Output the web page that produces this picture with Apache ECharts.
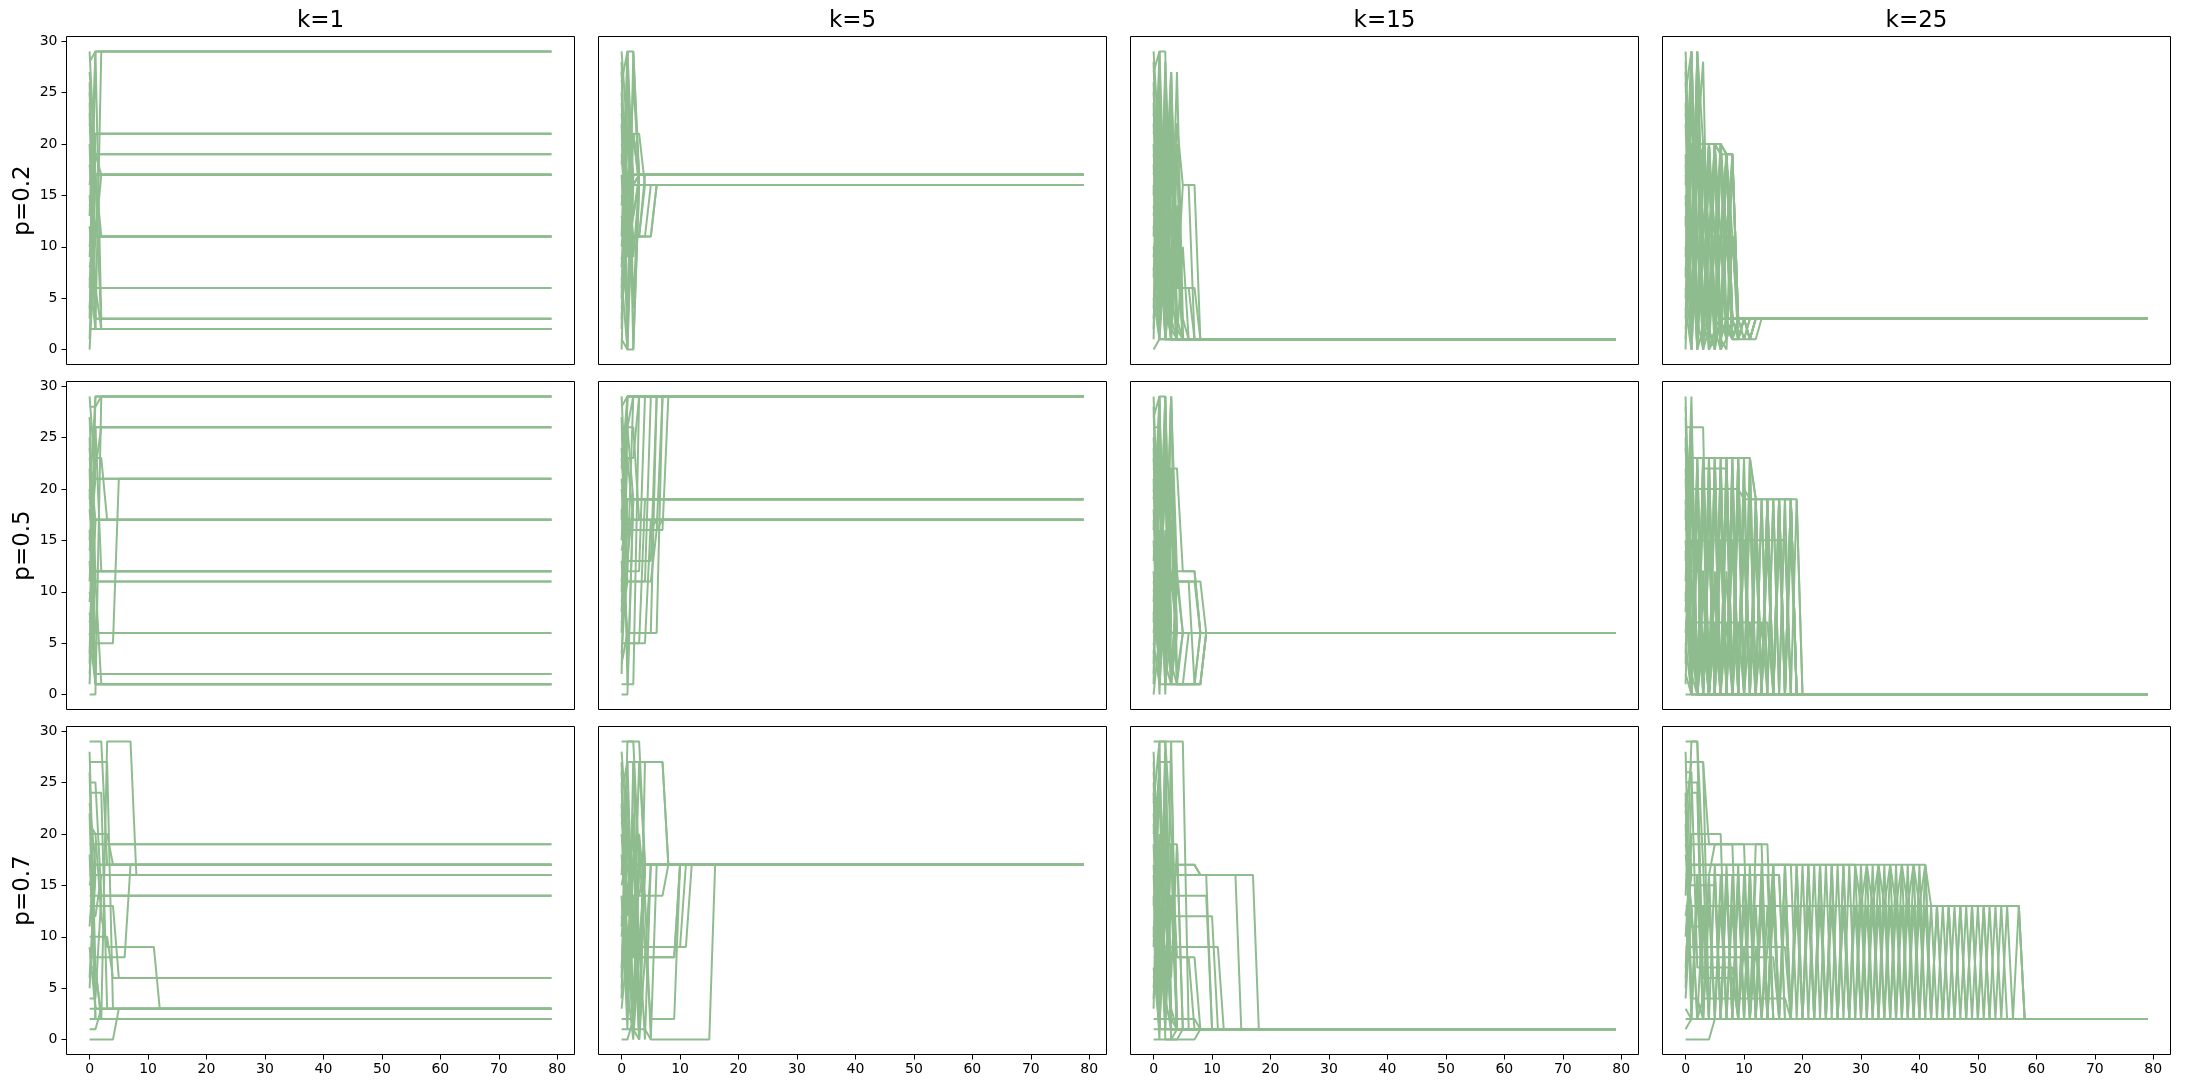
<!DOCTYPE html>
<html>
<head>
<meta charset="utf-8">
<script src="https://cdn.jsdelivr.net/npm/echarts@6/dist/echarts.min.js"></script>
<style>
html, body { margin: 0; padding: 0; background: #ffffff; }
#chart { width: 2190px; height: 1089px; }
</style>
</head>
<body>
<div id="chart"></div>
<script>
// column / row headers and axis ticks
const colTitles = ['k=1', 'k=5', 'k=15', 'k=25'];
const rowTitles = ['p=0.2', 'p=0.5', 'p=0.7'];
const xTicks = [0, 10, 20, 30, 40, 50, 60, 70, 80];
const yTicks = [0, 5, 10, 15, 20, 25, 30];
const lastStep = 79;

// one array per agent: opinion at step 0,1,2,... ; the last value stays until lastStep
const p02k1 = [
  [0,11,11],[1,17],[2,2],[3,29,3],[4,17],[5,6],[6,21],[7,2],[8,11],[9,19],
  [10,17,11],[11,11],[12,3],[13,29],[14,17],[15,6,2],[16,21],[17,17],[18,11],[19,19],
  [20,2,29],[21,21],[22,17],[23,3],[24,6],[25,11,17],[26,2],[27,19,17],[28,29],[29,17,2]
];
const p02k5 = [
  [0,21,17],[1,0,0,16],[2,29,29,17],[3,16,21,21,16],[4,11,17],[5,26,16],[6,17,11,11,11,11,16],
  [7,0,16,17],[8,21,13,17],[9,4,21,16],[10,17,16],[11,29,4,17],[12,13,11,11,16],[13,9,17],
  [14,21,21,16],[15,11,26,17],[16,16],[17,4,17],[18,26,0,16],[19,11,11,11,11,11,16],
  [20,17,9,16],[21,21,16,17],[22,0,29,16],[23,13,11,11,17],[24,16,21,17],[25,9,13,16],
  [26,29,16],[27,11,17],[28,4,11,11,11,16],[29,21,17]
];
const p02k15 = [
  [0,1],[1,29,29,1],[2,27,6,1],[3,14,1],[4,22,9,27,1],[5,1],[6,6,6,6,6,6,6,1],
  [7,25,3,20,12,1],[8,1,27,3,1],[9,18,1,23,6,16,16,1],[10,3,24,1],[11,29,12,8,27,3,1],
  [12,6,19,1,14,1],[13,20,2,25,1],[14,8,26,11,6,6,6,6,1],[15,27,1],[16,2,15,27,9,1],
  [17,22,6,1,20,1],[18,4,28,13,1],[19,12,1,6,22,16,16,16,1],[20,1,9,24,3,1],[21,26,5,1],
  [22,9,20,2,1,10,1],[23,16,1,18,1],[24,2,23,6,1],[25,13,7,27,2,1],[26,5,21,1],
  [27,29,1],[28,7,16,4,19,1],[29,19,10,1]
];
const p02k25 = [
  [0,29,3,0,2,0,3],[1,20,20,20,20,20,19,19,3],[2,11,0,19,1,11,3],[3,28,2,20,20,20,20,19,3],
  [4,0,29,11,20,1,11,11,11,3],[5,20,20,20,20,20,20,19,19,3],[6,1,27,2,19,11,3],
  [7,29,11,0,20,2,19,11,1,3,1,3],[8,3,20,28,2,0,11,19,3,1,3],[9,24,1,11,0,20,2,11,19,3],
  [10,2,29,20,3,11,0,1,3,1,3,1,3],[11,11,20,1,19,3,11,11,1,3],[12,27,0,19,11,20,1,3],
  [13,0,11,20,1,20,2,19,19,1,3,1,1,3],[14,20,2,11,20,0,20,11,3],[15,1,19,0,11,11,3,1,11,3],
  [16,29,3,11,0,2,20,19,1,1,3,1,3],[17,11,28,1,20,11,0,11,3],[18,0,20,20,20,1,11,19,11,1,3],
  [19,2,11,2,3,19,1,0,19,3],[20,20,1,11,2,11,20,3,1,3,3,1,3],[21,19,0,11,0,1,3,11,11,3],
  [22,3,29,0,11,20,11,2,1,1,1,1,3],[23,11,2,20,20,2,0,19,3],[24,1,27,1,3,20,19,1,3],
  [25,29,11,11,0,11,11,1,11,3],[26,11,0,2,20,20,1,3],[27,2,20,19,11,0,11,19,1,3,1,3],
  [28,0,11,1,2,20,20,11,3],[29,11,1,20,20,3,2,19,19,3]
];
const p05k1 = [
  [0,0,29],[1,17],[2,12],[3,29],[4,26],[5,5,5,5,5,21],[6,1],[7,11],[8,2],[9,17],
  [10,6],[11,26,12],[12,12],[13,1],[14,21],[15,23,23,17],[16,2],[17,17],[18,11],[19,29],
  [20,6],[21,22,26],[22,1],[23,17],[24,12],[25,2],[26,26],[27,11,1],[28,28,29],[29,21]
];
const p05k5 = [
  [0,0,19],[1,1,1,29],[2,29],[3,6,6,6,6,6,6,29],[4,13,19],[5,5,5,5,5,17],[6,26,26,17],
  [7,11,11,11,11,29],[8,23,23,29],[9,16,16,16,16,16,16,16,29],[10,29],[11,19],[12,12,29],
  [13,6,6,6,6,6,29],[14,17],[15,26,19],[16,16,16,16,16,16,17],[17,29],[18,5,5,5,19],
  [19,19],[20,12,12,12,29],[21,13,13,13,13,13,29],[22,29],[23,17],[24,11,11,11,11,11,16,29],
  [25,23,17],[26,26,29],[27,1,19],[28,29],[29,16,16,16,16,16,16,17]
];
const p05k15 = [
  [0,6],[1,29,1,1,1,1,1,1,6],[2,22,22,22,22,12,12,12,6],[3,27,6],[4,11,29,1,11,6],
  [5,1,1,1,1,1,1,1,1,6],[6,13,29,6],[7,29,4,17,1,6],[8,3,25,11,11,11,11,1,6],
  [9,22,2,29,12,12,12,12,6],[10,16,11,6],[11,6,27,3,1,1,1,1,1,6],[12,2,12,12,6],
  [13,25,0,22,11,11,11,11,11,6],[14,11,20,1,6],[15,1,9,29,2,6],[16,29,1,12,6],[17,8,24,6],
  [18,4,11,1,1,1,1,1,1,6],[19,27,6,11,6],[20,12,1,21,1,1,6],[21,0,14,6],[22,19,3,1,12,6],
  [23,6,22,1,11,11,11,11,6],[24,2,12,29,6],[25,11,6],[26,26,1,6],[27,29,29,6],[28,1,16,6],
  [29,12,2,21,6]
];
const p05k25 = [
  [0,0],
  [1,23,0,23,0,23,0,23,0,23,0,23,0],
  [2,0,23,0,23,0,23,0,23,0,23,23,19,0,19,0,19,0,19,0],
  [3,26,26,26,0],
  [4,20,0,20,0,20,0,20,0,20,0],
  [5,0,20,0,20,0,20,0,20,0,20,19,19,19,19,19,19,19,19,0],
  [6,15,15,15,15,15,15,15,15,15,15,15,15,15,15,15,15,15,0],
  [7,7,7,7,7,7,7,7,7,7,7,7,7,7,7,0],
  [8,22,0,22,22,22,22,22,0],
  [9,23,23,23,23,23,23,23,23,23,23,23,0],
  [10,0,15,0,15,0,15,0,15,0,15,0,15,0,15,0,15,0,15,0],
  [11,29,0],
  [12,12,0,12,0,12,0,12,0],
  [13,23,0,23,0,23,0,23,0,23,0,19,0,19,0,19,0,19,0,19,0],
  [14,0],
  [15,5,0,5,0,7,0,7,0,7,0,7,0,7,0],
  [16,19,0,19,0,19,0,19,0,19,0,19,0,19,0,19,0,19,19,0],
  [17,27,0],
  [18,0,23,0,23,0,23,0,23,0,23,0,19,0,19,0,19,0,19,0],
  [19,2,0],
  [20,20,20,20,20,20,20,20,20,20,19,19,19,19,19,19,19,19,19,0],
  [21,0,22,0,22,0,22,0,22,0],
  [22,6,0,6,0,6,0],
  [23,23,0,23,0,23,0,23,0,23,0,23,19,0,19,0,19,0,19,0],
  [24,10,0,10,0,10,0],
  [25,0,15,0,15,0,15,0,15,0,15,0,15,0,15,0,15,15,0],
  [26,26,0],
  [27,0,20,0,20,0,20,0,20,0,20,0,19,0,19,0,19,0,19,19,0],
  [28,12,12,12,0],
  [29,0,0]
];
const p07k1 = [
  [0,0,0,0,0,3],[1,1,3],[2,2],[3,3],[4,4,14],[5,16],[6,17],[7,7,2],[8,8,8,8,8,8,8,17],[9,3],
  [10,10,10,10,6],[11,19],[12,12,16],[13,13,13,13,13,6],[14,14],[15,17],[16,16],[17,17],[18,3],[19,19],
  [20,20,20,20,17],[21,20,12,9,9,9,9,9,9,9,9,9,3],[22,2],[23,17],[24,24,24,3],[25,25,14],[26,2],
  [27,27,27,27,3],[28,7,2,29,29,29,29,29,16],[29,29,29,17]
];
const p07k5 = [
  [0,0,2,17],[1,1,1,1,1,0,0,0,0,0,0,0,0,0,0,0,17],[2,2,2,17],[3,9,17],[4,27,27,27,27,27,27,27,17],
  [5,14,8,27,17],[6,29,29,29,17],[7,19,19,19,9,2,2,2,2,2,17],[8,8,8,8,8,8,8,8,8,8,17],
  [9,9,9,9,9,9,9,9,9,9,9,9,17],[10,17],[11,21,12,0,17],[12,8,17],[13,14,14,14,14,14,14,14,17],
  [14,1,27,17],[15,18,19,8,17],[16,27,9,9,9,9,9,9,9,9,9,17],[17,17],[18,9,1,20,14,0,17],
  [19,19,17],[20,10,4,17],[21,24,2,8,8,8,8,8,8,8,17],[22,14,20,10,0,17],[23,6,18,3,17],
  [24,27,27,1,17],[25,5,0,9,17],[26,12,22,0,8,17],[27,2,14,14,17],[28,20,1,0,27,27,27,27,17],
  [29,29,29,17]
];
const p07k15 = [
  [0,0,0,0,0,1],[1,1],[2,2,2,2,2,2,2,2,1],[3,29,29,29,29,29,1],
  [4,17,17,17,17,17,17,17,16,16,16,16,16,16,16,16,16,16,1],[5,14,14,14,14,14,14,14,14,14,1],
  [6,9,9,9,9,9,9,9,9,9,9,9,1],[7,1],[8,8,8,8,8,8,8,1],[9,27,27,27,1],[10,20,1],[11,0,29,1],
  [12,12,12,12,12,12,12,12,12,12,12,1],[13,24,6,19,1],
  [14,1,17,17,17,17,17,17,16,16,16,16,16,16,16,1],[15,16,16,16,16,16,16,16,16,16,1],
  [16,2,19,0,1],[17,5,27,2,1],[18,19,3,19,1],[19,3,28,1],[20,26,14,1],[21,8,22,6,19,1],
  [22,11,1,14,1],[23,29,0,0,0,0,0,0,1],[24,1,13,1],[25,7,24,3,1],[26,14,19,19,19,1],
  [27,12,2,29,1],[28,13,4,1],[29,29,29,20,8,8,8,8,1]
];
const p07k25 = [
  [0,0,0,0,0,2],
  [1,2],
  [2,2],
  [3,2],
  [4,13,2,4,4,4,4,4,4,4,4,4,4,4,4,4,4,4,2],
  [5,24,24,2],
  [6,20,20,20,20,20,20,2],
  [7,17,17,17,17,17,17,17,17,17,17,17,17,17,17,17,17,17,17,
   2,17,2,17,2,17,2,17,2,17,2,17,2,17,2,17,2,17,2,17,2,17,2],
  [8,8,8,8,8,8,8,8,8,8,8,8,8,8,8,8,2],
  [9,9,9,9,9,9,9,9,9,9,9,9,9,9,9,9,9,9,2],
  [10,19,19,19,19,19,19,19,19,19,19,2,19,19,19,2],
  [11,11,11,11,2],
  [12,16,16,16,16,16,2,16,2,16,2,16,2,16,2,16,16,2],
  [13,13,13,13,13,13,13,13,13,13,13,13,13,13,13,13,13,13,13,13,13,13,13,13,13,13,13,13,13,13,
   13,13,13,13,13,13,13,13,13,13,13,13,13,13,13,13,13,13,13,13,13,13,13,13,13,13,13,13,2],
  [14,29,29,2],
  [15,15,15,15,15,15,2,15,2,15,2,15,2,15,2,15,2],
  [16,16,16,16,16,16,16,16,16,16,16,16,16,16,16,16,16,2],
  [17,17,17,17,17,17,17,17,17,17,17,17,17,17,17,17,17,17,17,17,17,17,17,17,17,17,17,17,17,17,
   17,17,17,17,17,17,17,17,17,17,17,17,13,13,13,13,13,13,13,13,13,13,13,13,13,13,13,13,2],
  [18,13,2,13,2,2,2,2,2,2,2,2,2,2,2,2,2,2,2,2,2,2,2,2,2,2,2,
   13,2,13,2,13,2,13,2,13,2,13,2,13,2,13,2,13,2,13,2,13,2,13,2,13,2,13,2,13,2,13,2],
  [19,16,16,16,16,16,2,2,2,2,2,2,2,2,2,2,2,2,2,2,2,2,2,2,2,2,2,2,2,2,
   13,2,13,2,13,2,13,2,13,2,13,2,13,2,13,2,13,2,13,2,13,2,13,2,13,2],
  [20,17,17,17,17,17,17,17,17,17,17,17,17,17,17,17,17,17,17,17,17,17,17,17,17,17,17,17,17,17,
   13,17,13,17,13,17,13,17,13,17,13,17,2,13,2,13,2,13,2,13,2,13,2],
  [21,2,16,2,16,19,19,19,19,2,9,2,9,2,9,
   17,2,17,2,17,2,17,2,17,2,17,2,17,2,17,2,17,2,17,2,17,2,17,2,17,2,17,2],
  [22,27,27,27,2],
  [23,4,4,2,13,2,13,2,13,2,13,2,13,2,13,2],
  [24,2,16,2,16,2,16,2,16,2,16,2,16,16,16,2],
  [25,25,25,6,6,6,6,6,6,2],
  [26,26,7,7,7,7,7,7,7,2],
  [27,27,27,27,19,19,19,19,19,19,19,19,19,19,2],
  [28,3,13,13,13,13,13,13,13,13,13,13,2,13,2,13,2,13,2,13,2,13,2,13,2,13,2,13,2],
  [29,29,29,17,2,17,2,17,2,17,2,17,2,17,2,17,2,17,2,17,2,17,2,17,2,17,2,17,2]
];

const panels = [
  [p02k1, p02k5, p02k15, p02k25],
  [p05k1, p05k5, p05k15, p05k25],
  [p07k1, p07k5, p07k15, p07k25]
];

// panel layout
const colLeft = [66.5, 598.5, 1130.5, 1662.5];
const rowTop = [36.5, 381.5, 726.5];
const panelW = 508;
const panelH = 328;
const lineColor = '#8fbc8f';
const font = 'DejaVu Sans';

function toPoints(vals) {
  const pts = vals.map((v, t) => [t, v]);
  pts.push([lastStep, vals[vals.length - 1]]);
  return pts;
}

var grids = [], xAxes = [], yAxes = [], series = [], graphics = [];

panels.forEach((row, r) => {
  row.forEach((lines, c) => {
    var i = grids.length;
    grids.push({
      left: colLeft[c], top: rowTop[r], width: panelW, height: panelH,
      show: true, borderColor: '#000', borderWidth: 1, backgroundColor: '#fff'
    });
    xAxes.push({
      gridIndex: i, type: 'value', min: -3.95, max: 82.95,
      splitLine: { show: false },
      axisLine: { show: false, onZero: false },
      axisTick: { show: r === 2, length: 5, lineStyle: { color: '#000' }, customValues: xTicks },
      axisLabel: { show: r === 2, customValues: xTicks, color: '#000', fontSize: 14, fontFamily: font, margin: 8 }
    });
    yAxes.push({
      gridIndex: i, type: 'value', min: -1.45, max: 30.45,
      splitLine: { show: false },
      axisLine: { show: false, onZero: false },
      axisTick: { show: c === 0, length: 5, lineStyle: { color: '#000' }, customValues: yTicks },
      axisLabel: { show: c === 0, customValues: yTicks, color: '#000', fontSize: 14, fontFamily: font, margin: 9 }
    });
    lines.forEach(vals => {
      series.push({
        type: 'line', xAxisIndex: i, yAxisIndex: i,
        data: toPoints(vals),
        symbol: 'none', showSymbol: false, silent: true,
        lineStyle: { color: lineColor, width: 2 },
        emphasis: { disabled: true }
      });
    });
  });
});

colTitles.forEach((t, c) => {
  graphics.push({
    type: 'text', x: colLeft[c] + panelW / 2, y: 21,
    style: { text: t, fontSize: 23, fontFamily: font, fill: '#000', align: 'center', verticalAlign: 'middle' }
  });
});
rowTitles.forEach((t, r) => {
  graphics.push({
    type: 'text', x: 23, y: rowTop[r] + panelH / 2, rotation: Math.PI / 2,
    style: { text: t, fontSize: 23, fontFamily: font, fill: '#000', align: 'center', verticalAlign: 'middle' }
  });
});

var myChart = echarts.init(document.getElementById('chart'));
myChart.setOption({
  backgroundColor: '#fff',
  animation: false,
  grid: grids,
  xAxis: xAxes,
  yAxis: yAxes,
  series: series,
  graphic: graphics
});
</script>
</body>
</html>
